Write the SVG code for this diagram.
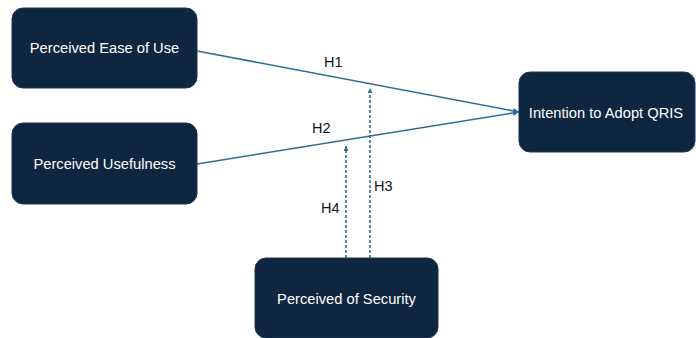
<svg xmlns="http://www.w3.org/2000/svg" width="696" height="338" viewBox="0 0 696 338">
<style>
.node{fill:#0f2640;stroke:#1d3550;stroke-width:1}
.lbl{font-family:"Liberation Sans",Arial,sans-serif;font-size:14.7px;fill:#ffffff;text-anchor:middle;dominant-baseline:central}
.h{font-family:"Liberation Sans",Arial,sans-serif;font-size:14.5px;fill:#111111}
.solid{stroke:#2f6d94;stroke-width:1.6;fill:none}
.dash{stroke:#2f6d94;stroke-width:1.6;fill:none;stroke-dasharray:3,2}
</style>
<defs>
<marker id="ah" viewBox="0 0 10 10" refX="10" refY="5" markerWidth="5" markerHeight="5" orient="auto" markerUnits="userSpaceOnUse">
<path d="M0,0 L10,5 L0,10 z" fill="#2f6d94"/>
</marker>
<marker id="ah2" viewBox="0 0 10 10" refX="10" refY="5" markerWidth="6" markerHeight="6" orient="auto" markerUnits="userSpaceOnUse">
<path d="M0,0 L10,5 L0,10 z" fill="#2f6d94"/>
</marker>
</defs>
<rect width="696" height="338" fill="#ffffff"/>
<g id="connectors">
<line class="solid" x1="197" y1="51" x2="519" y2="112" marker-end="url(#ah2)"/>
<line class="solid" x1="197" y1="164" x2="519" y2="112" marker-end="url(#ah2)"/>
<line class="dash" x1="370" y1="258" x2="370" y2="88" marker-end="url(#ah)"/>
<line class="dash" x1="346" y1="258" x2="346" y2="146" marker-end="url(#ah)"/>
<text class="h" x="324" y="67">H1</text>
<text class="h" x="312" y="133">H2</text>
<text class="h" x="374" y="191">H3</text>
<text class="h" x="321" y="213">H4</text>
</g>
<g id="n1"><rect class="node" x="12" y="8" width="185" height="80" rx="11"/><text class="lbl" x="104.5" y="48">Perceived Ease of Use</text></g>
<g id="n2"><rect class="node" x="12" y="123" width="185" height="81" rx="11"/><text class="lbl" x="104.5" y="164">Perceived Usefulness</text></g>
<g id="n3"><rect class="node" x="519" y="72" width="176" height="80" rx="11"/><text class="lbl" x="606" y="113">Intention to Adopt QRIS</text></g>
<g id="n4"><rect class="node" x="255" y="258" width="183" height="80" rx="11"/><text class="lbl" x="346.5" y="299">Perceived of Security</text></g>
</svg>
